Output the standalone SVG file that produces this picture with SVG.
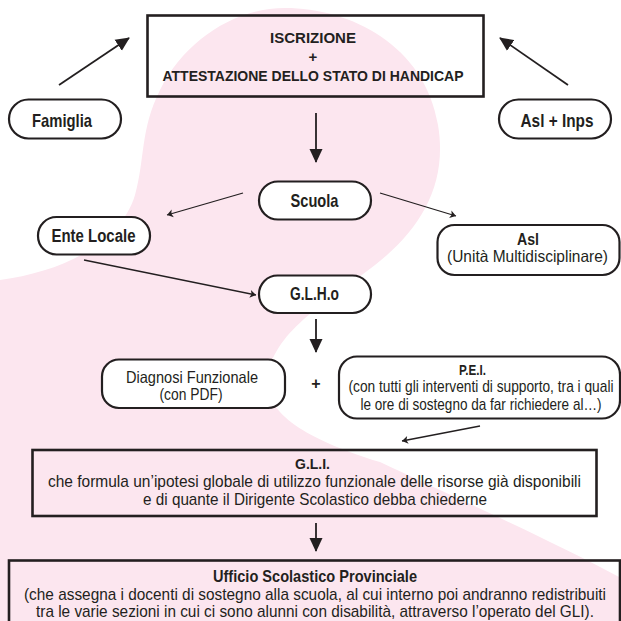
<svg xmlns="http://www.w3.org/2000/svg" width="621" height="621" viewBox="0 0 621 621">
<style>
.rect{fill:none;stroke:#231f20;stroke-width:2.6}
.pill{fill:#fff;stroke:#231f20;stroke-width:2.2}
.conn{fill:none;stroke:#231f20;stroke-width:1.8}
.thin{fill:none;stroke:#231f20;stroke-width:1.3}
text{font-family:"Liberation Sans",Arial,sans-serif;fill:#231f20;text-anchor:middle}
.b{font-weight:bold}
</style>
<defs>
<marker id="big" markerUnits="userSpaceOnUse" markerWidth="16" markerHeight="14" refX="13" refY="7" orient="auto"><path d="M0,0.5 L14,7 L0,13.5 Z" fill="#231f20"/></marker>
<marker id="small" markerUnits="userSpaceOnUse" markerWidth="10" markerHeight="10" refX="7" refY="5" orient="auto"><path d="M1,1 L7,5 L1,9 L2.5,5 Z" fill="#231f20"/></marker>
</defs>
<rect width="621" height="621" fill="#fff"/>
<path d="M0,280 C60,272 120,245 135,195 C145,160 140,130 160,90 C185,40 235,8 285,8 C350,8 425,45 438,125 C448,185 420,230 375,265 C330,300 275,330 268,375 C262,415 310,440 380,462 C450,495 550,540 621,578 L621,621 L0,621 Z" fill="#fce6ef"/>
<g id="connectors">
<line class="conn" x1="59" y1="85" x2="129" y2="38" marker-end="url(#big)"/>
<line class="conn" x1="568" y1="85" x2="500" y2="38" marker-end="url(#big)"/>
<line class="conn" x1="316" y1="113" x2="316" y2="162" marker-end="url(#big)"/>
<line class="thin" x1="243" y1="193" x2="167" y2="215" marker-end="url(#small)"/>
<line class="thin" x1="380" y1="193" x2="456" y2="216" marker-end="url(#small)"/>
<line class="thin" x1="84" y1="260" x2="256" y2="295" marker-end="url(#small)"/>
<line class="conn" x1="316" y1="319" x2="316" y2="352" marker-end="url(#big)"/>
<line class="thin" x1="480" y1="426" x2="402" y2="441" marker-end="url(#small)"/>
<line class="conn" x1="316" y1="523" x2="316" y2="551" marker-end="url(#big)"/>
</g>
<g id="iscrizione">
<rect class="rect" x="147.5" y="15.5" width="336" height="81"/>
<text class="b" x="313" y="42.5" font-size="15.5" textLength="86" lengthAdjust="spacingAndGlyphs">ISCRIZIONE</text>
<text class="b" x="313" y="62" font-size="15">+</text>
<text class="b" x="313" y="81" font-size="15.5" textLength="301" lengthAdjust="spacingAndGlyphs">ATTESTAZIONE DELLO STATO DI HANDICAP</text>
</g>
<g id="famiglia">
<rect class="pill" x="9" y="99.5" width="112" height="39" rx="19.5"/>
<text class="b" x="62" y="126.5" font-size="18.5" textLength="60" lengthAdjust="spacingAndGlyphs">Famiglia</text>
</g>
<g id="asl-inps">
<rect class="pill" x="499" y="99.5" width="112" height="39" rx="19.5"/>
<text class="b" x="557" y="126.5" font-size="18.5" textLength="73" lengthAdjust="spacingAndGlyphs">Asl + Inps</text>
</g>
<g id="scuola">
<rect class="pill" x="259" y="181.5" width="112" height="38" rx="19"/>
<text class="b" x="314.5" y="206.5" font-size="18.5" textLength="48" lengthAdjust="spacingAndGlyphs">Scuola</text>
</g>
<g id="ente-locale">
<rect class="pill" x="38" y="217" width="112" height="37.5" rx="18.5"/>
<text class="b" x="93.5" y="242" font-size="18" textLength="84" lengthAdjust="spacingAndGlyphs">Ente Locale</text>
</g>
<g id="asl">
<rect class="pill" x="437.5" y="225" width="182" height="50" rx="17"/>
<text class="b" x="528" y="244.5" font-size="16" textLength="22" lengthAdjust="spacingAndGlyphs">Asl</text>
<text x="527.5" y="262" font-size="16.5" textLength="161" lengthAdjust="spacingAndGlyphs">(Unità Multidisciplinare)</text>
</g>
<g id="glho">
<rect class="pill" x="259" y="275.5" width="112" height="37.5" rx="18.5"/>
<text class="b" x="314.5" y="300" font-size="17.5" textLength="49" lengthAdjust="spacingAndGlyphs">G.L.H.o</text>
</g>
<g id="diagnosi">
<rect class="pill" x="102" y="359.5" width="183" height="48.5" rx="17"/>
<text x="192" y="382.5" font-size="16.5" textLength="132" lengthAdjust="spacingAndGlyphs">Diagnosi Funzionale</text>
<text x="191" y="399.5" font-size="16.5" textLength="63" lengthAdjust="spacingAndGlyphs">(con PDF)</text>
</g>
<text class="b" x="316" y="389" font-size="16">+</text>
<g id="pei">
<rect class="pill" x="339" y="356.5" width="281" height="62" rx="18"/>
<text class="b" x="472.5" y="375" font-size="15.5" textLength="27" lengthAdjust="spacingAndGlyphs">P.E.I.</text>
<text x="481" y="392" font-size="17" textLength="265" lengthAdjust="spacingAndGlyphs">(con tutti gli interventi di supporto, tra i quali</text>
<text x="481" y="410" font-size="17" textLength="241" lengthAdjust="spacingAndGlyphs">le ore di sostegno da far richiedere al…)</text>
</g>
<g id="gli">
<rect class="rect" x="32.5" y="450" width="564" height="66"/>
<text class="b" x="312.5" y="468.5" font-size="15.5" textLength="35" lengthAdjust="spacingAndGlyphs">G.L.I.</text>
<text x="314.5" y="486.5" font-size="17" textLength="533" lengthAdjust="spacingAndGlyphs">che formula un’ipotesi globale di utilizzo funzionale delle risorse già disponibili</text>
<text x="315" y="504.5" font-size="17" textLength="344" lengthAdjust="spacingAndGlyphs">e di quante il Dirigente Scolastico debba chiederne</text>
</g>
<g id="usp">
<rect class="rect" x="9" y="560.5" width="611" height="64"/>
<text class="b" x="315" y="581.5" font-size="16.5" textLength="204" lengthAdjust="spacingAndGlyphs">Ufficio Scolastico Provinciale</text>
<text x="315" y="599.5" font-size="17" textLength="582" lengthAdjust="spacingAndGlyphs">(che assegna i docenti di sostegno alla scuola, al cui interno poi andranno redistribuiti</text>
<text x="315" y="617" font-size="17" textLength="558" lengthAdjust="spacingAndGlyphs">tra le varie sezioni in cui ci sono alunni con disabilità, attraverso l’operato del GLI).</text>
</g>
</svg>
